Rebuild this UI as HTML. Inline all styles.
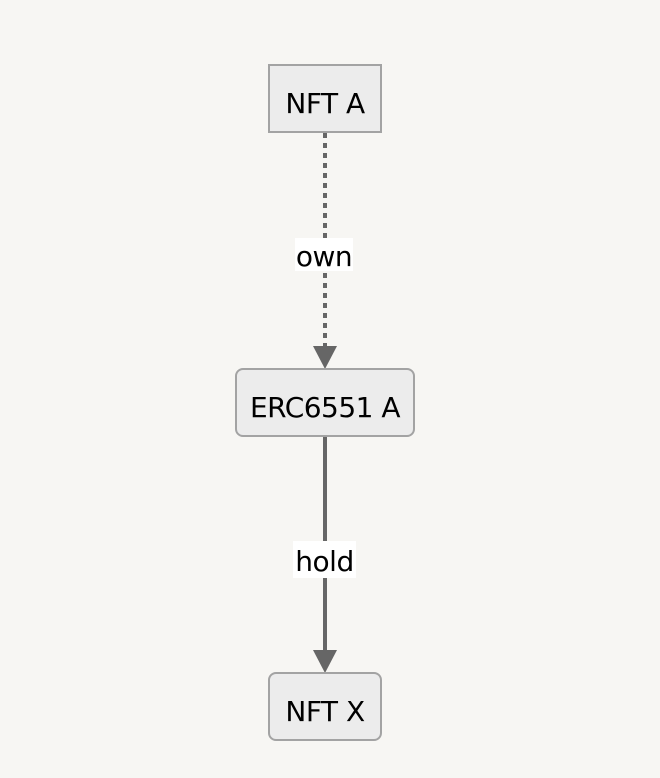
<!DOCTYPE html>
<html><head><style>
html,body{margin:0;padding:0;background:#f7f6f3;}
body{width:660px;height:778px;position:relative;overflow:hidden;font-family:"DejaVu Sans","Liberation Sans",sans-serif;}
.n{position:absolute;box-sizing:border-box;background:#ececec;border:2px solid #a3a3a3;display:flex;align-items:center;justify-content:center;font-size:28px;color:#000;padding-top:10px;letter-spacing:-0.5px;}
.l{position:absolute;background:#fff;font-size:28px;color:#000;display:flex;align-items:center;justify-content:center;padding-top:4px;box-sizing:border-box;letter-spacing:-0.5px;}
</style></head><body>
<svg width="660" height="778" style="position:absolute;left:0;top:0">
<line x1="325" y1="133" x2="325" y2="350" stroke="#666" stroke-width="4" stroke-dasharray="5,5"/>
<polygon points="313,346 337,346 325,369" fill="#666"/>
<line x1="325" y1="437" x2="325" y2="652" stroke="#666" stroke-width="4"/>
<polygon points="313,650 337,650 325,673" fill="#666"/>
</svg>
<div class="n" style="left:268px;top:64px;width:114px;height:69px;">NFT A</div>
<div class="n" style="left:235px;top:368px;width:180px;height:69px;border-radius:8px;">ERC6551 A</div>
<div class="n" style="left:268px;top:672px;width:114px;height:69px;border-radius:8px;">NFT X</div>
<div class="l" style="left:295px;top:238px;width:58px;height:33px;">own</div>
<div class="l" style="left:293px;top:541px;width:63px;height:37px;">hold</div>
</body></html>
